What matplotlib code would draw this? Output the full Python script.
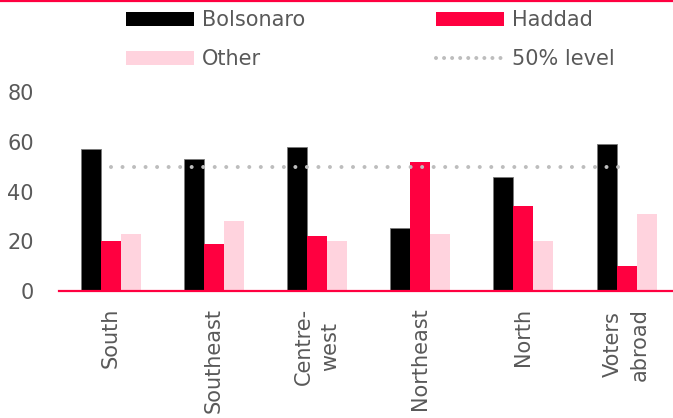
import matplotlib
matplotlib.use("Agg")
import matplotlib.pyplot as plt
import numpy as np
from matplotlib.patches import Patch
from matplotlib.lines import Line2D

categories = ["South", "Southeast", "Centre-\nwest", "Northeast", "North", "Voters\nabroad"]
bolsonaro = [57, 53, 58, 25.5, 46, 59]
haddad = [20, 19, 22, 52, 34, 10]
other = [23, 28, 20, 23, 20, 31]
level = 50
yticks = [0, 20, 40, 60, 80]

C_BOL = "#000000"
C_HAD = "#FF0040"
C_OTH = "#FFD3DE"
C_TXT = "#595959"
C_LVL = "#BDBDBD"

plt.rcParams['font.family'] = ['DejaVu Sans']
FS = 15

W, H = 673, 418
fig = plt.figure(figsize=(W / 100, H / 100), dpi=100)
ax = fig.add_axes([59 / W, 1 - 291 / H, 1 - 59 / W, (291 - 92) / H])

x = np.arange(len(categories))
bw = 0.194
ax.bar(x - bw, bolsonaro, bw, color=C_BOL, edgecolor="#7a7a7a", linewidth=0.6, zorder=2)
ax.bar(x, haddad, bw, color=C_HAD, linewidth=0, zorder=2)
ax.bar(x + bw, other, bw, color=C_OTH, linewidth=0, zorder=2)

ax.plot([x[0], x[-1]], [level, level], color=C_LVL, linewidth=2.9,
        linestyle=(0, (0.001, 2.86)), dash_capstyle="round", zorder=3)

ax.set_xlim(-0.5, 5.45)
ax.set_ylim(0, 80)
ax.set_yticks(yticks)
ax.set_yticklabels([str(v) for v in yticks], fontsize=FS, color=C_TXT)
ax.set_xticks(x)
ax.set_xticklabels(categories, rotation=90, fontsize=FS, color=C_TXT,
                   va="top", ha="center", multialignment="center", linespacing=1.45)
ax.tick_params(axis="y", length=0, pad=18)
ax.tick_params(axis="x", length=0, pad=12)
for s in ["left", "right", "top"]:
    ax.spines[s].set_visible(False)
ax.spines["bottom"].set_color(C_HAD)
ax.spines["bottom"].set_linewidth(1.6)
ax.spines["bottom"].set_zorder(4)

# top rule
fig.add_artist(Line2D([0, 1], [1 - 1 / H, 1 - 1 / H], color=C_HAD, linewidth=1.6,
                      transform=fig.transFigure))

leg_kw = dict(frameon=False, fontsize=FS, borderpad=0, borderaxespad=0,
              handlelength=3.27, handleheight=0.67, handletextpad=0.38,
              labelspacing=0.93, loc="upper left", labelcolor=C_TXT)
h1 = [Patch(facecolor=C_BOL, edgecolor="none"), Patch(facecolor=C_OTH, edgecolor="none")]
l1 = ["Bolsonaro", "Other"]
h2 = [Patch(facecolor=C_HAD, edgecolor="none"),
      Line2D([0], [0], color=C_LVL, linewidth=2.9, linestyle=(0, (0.001, 2.0)),
             dash_capstyle="round")]
l2 = ["Haddad", "50% level"]
leg1 = fig.legend(h1, l1, bbox_to_anchor=(126 / W, 1 - 10 / H), **leg_kw)
leg2 = fig.legend(h2, l2, bbox_to_anchor=(436 / W, 1 - 10 / H), **leg_kw)

fig.savefig("out.png", dpi=100)
